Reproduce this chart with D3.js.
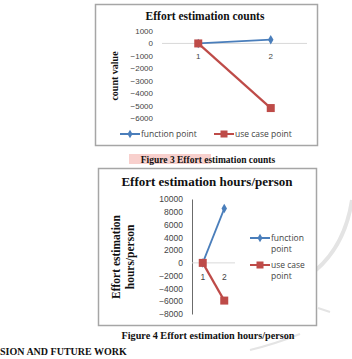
<!DOCTYPE html>
<html><head><meta charset="utf-8">
<script src="https://cdn.jsdelivr.net/npm/d3@7"></script>
<style>
html,body{margin:0;padding:0;background:#fff;}
svg{display:block;}
</style></head>
<body>
<script>
// ---- data ----
const categories = ["1", "2"];
const seriesNames = ["function point", "use case point"];
const countFunctionPoint = [0, 300];
const countUseCasePoint = [0, -5200];
const countTicks = [1000, 0, -1000, -2000, -3000, -4000, -5000, -6000];
const hoursFunctionPoint = [0, 8500];
const hoursUseCasePoint = [0, -5900];
const hoursTicks = [10000, 8000, 6000, 4000, 2000, 0, -2000, -4000, -6000, -8000];
const colors = ["#4a7ebb", "#be4b48"];

const W = 352, H = 359;
const svg = d3.select("body").append("svg").attr("width", W).attr("height", H);

// faint watermark
const wm = svg.append("g").attr("fill", "none").attr("stroke", "#e4e4e4").attr("stroke-width", 4);
wm.append("path").attr("d", "M352,200 Q345,245 316,270");
wm.append("path").attr("d", "M318,308 L330,312").attr("stroke-width", 2);
wm.append("path").attr("d", "M250,350 Q275,344 300,334").attr("stroke-width", 2);

function chart(cfg) {
  const g = svg.append("g");
  g.append("rect").attr("x", cfg.box[0] + 0.5).attr("y", cfg.box[1] + 0.5)
    .attr("width", cfg.box[2]).attr("height", cfg.box[3])
    .attr("fill", "#fff").attr("stroke", "#a6a6a6").attr("stroke-width", 1.5);
  g.append("text").attr("x", cfg.titleX).attr("y", cfg.titleY).attr("text-anchor", "middle")
    .attr("font-family", "Liberation Serif").attr("font-weight", "bold")
    .attr("font-size", cfg.titleSize).attr("fill", "#111").text(cfg.title);

  const y = d3.scaleLinear().domain(cfg.ydom).range(cfg.yrange);
  const x = d3.scalePoint().domain(categories).range(cfg.xrange).padding(0.5);

  const ax = g.append("g").attr("transform", `translate(${cfg.xrange[0]},0)`)
    .call(d3.axisLeft(y).tickValues(cfg.ticks).tickSize(0).tickPadding(cfg.tickPad).tickFormat(d3.format("d")));
  ax.selectAll("text").attr("font-family", "Liberation Sans").attr("font-size", cfg.tickSize).attr("fill", "#444");
  if (cfg.axisLine) ax.select(".domain").attr("stroke", "#6b6b6b").attr("stroke-width", 1);
  else ax.select(".domain").remove();

  // zero line
  g.append("line").attr("x1", cfg.xrange[0]).attr("x2", cfg.xrange[1])
    .attr("y1", y(0)).attr("y2", y(0)).attr("stroke", "#d9d9d9").attr("stroke-width", 1);
  // category labels
  g.selectAll(".cat").data(categories).join("text")
    .attr("x", d => x(d)).attr("y", cfg.catY).attr("text-anchor", "middle")
    .attr("font-family", "Liberation Sans").attr("font-size", cfg.tickSize).attr("fill", "#444").text(d => d);

  const line = d3.line().x((d, i) => x(categories[i])).y(d => y(d));
  cfg.series.forEach((vals, si) => {
    g.append("path").datum(vals).attr("d", line).attr("fill", "none")
      .attr("stroke", colors[si]).attr("stroke-width", si === 0 ? 1.8 : 2.2);
  });
  g.selectAll(".fp").data(cfg.series[0]).join("path")
    .attr("transform", (d, i) => `translate(${x(categories[i])},${y(d)})`)
    .attr("d", d3.symbol(d3.symbolDiamond, 26)).attr("fill", colors[0]);
  g.selectAll(".uc").data(cfg.series[1]).join("rect")
    .attr("x", (d, i) => x(categories[i]) - 4).attr("y", d => y(d) - 4)
    .attr("width", 8).attr("height", 8).attr("fill", colors[1]);

  // y title
  const yt = g.append("text").attr("transform", `translate(${cfg.yTitleX},${cfg.yTitleY}) rotate(-90)`)
    .attr("text-anchor", "middle").attr("font-family", "Liberation Serif").attr("font-weight", "bold")
    .attr("font-size", cfg.yTitleSize).attr("fill", "#111");
  cfg.yTitle.forEach((t, i) => yt.append("tspan").attr("x", 0).attr("dy", i === 0 ? 0 : cfg.yTitleSize * 1.25).text(t));

  // legend
  cfg.legend.forEach((L, i) => {
    g.append("line").attr("x1", L.x).attr("x2", L.x + 20).attr("y1", L.y).attr("y2", L.y)
      .attr("stroke", colors[i]).attr("stroke-width", 2);
    if (i === 0) g.append("path").attr("transform", `translate(${L.x + 10},${L.y})`)
      .attr("d", d3.symbol(d3.symbolDiamond, 22)).attr("fill", colors[0]);
    else g.append("rect").attr("x", L.x + 6.5).attr("y", L.y - 3.5).attr("width", 7).attr("height", 7).attr("fill", colors[1]);
    const tx = g.append("text").attr("x", L.x + 21).attr("y", L.y + 3)
      .attr("font-family", "Open Sans").attr("font-size", cfg.legSize).attr("fill", "#444");
    L.lines.forEach((t, j) => tx.append("tspan").attr("x", L.x + 21).attr("dy", j === 0 ? 0 : 10.5).text(t));
  });
}

chart({
  box: [95, 4, 222, 141], title: "Effort estimation counts", titleX: 205, titleY: 20, titleSize: 11.5,
  ydom: [-6000, 1000], yrange: [118, 31], xrange: [162, 307], ticks: countTicks, tickPad: 9, tickSize: 8,
  axisLine: false, catY: 59, series: [countFunctionPoint, countUseCasePoint],
  yTitle: ["count value"], yTitleX: 118, yTitleY: 76, yTitleSize: 10,
  legend: [{ x: 120, y: 134, lines: ["function point"] }, { x: 214, y: 134, lines: ["use case point"] }], legSize: 8.5
});

chart({
  box: [98, 168, 218, 157], title: "Effort estimation hours/person", titleX: 207, titleY: 186, titleSize: 13,
  ydom: [-8000, 10000], yrange: [314, 199], xrange: [192, 235], ticks: hoursTicks, tickPad: 9, tickSize: 8.5,
  axisLine: true, catY: 280, series: [hoursFunctionPoint, hoursUseCasePoint],
  yTitle: ["Effort estimation", "hours/person"], yTitleX: 120, yTitleY: 257, yTitleSize: 11.5,
  legend: [{ x: 250, y: 238, lines: ["function", "point"] }, { x: 250, y: 265, lines: ["use case", "point"] }], legSize: 8.5
});

// captions
svg.append("rect").attr("x", 129).attr("y", 154).attr("width", 82).attr("height", 10).attr("fill", "#f6c4c0").attr("opacity", 0.8);
svg.append("text").attr("x", 208).attr("y", 162.5).attr("text-anchor", "middle")
  .attr("font-family", "Liberation Serif").attr("font-weight", "bold").attr("font-size", 9.5).attr("fill", "#111")
  .text("Figure 3 Effort estimation counts");
svg.append("text").attr("x", 208).attr("y", 338.5).attr("text-anchor", "middle")
  .attr("font-family", "Liberation Serif").attr("font-weight", "bold").attr("font-size", 10.2).attr("fill", "#111")
  .text("Figure 4 Effort estimation hours/person");
svg.append("text").attr("x", 0).attr("y", 355)
  .attr("font-family", "Liberation Serif").attr("font-weight", "bold").attr("font-size", 10).attr("fill", "#111")
  .text("SION AND FUTURE WORK");
</script>
</body></html>
